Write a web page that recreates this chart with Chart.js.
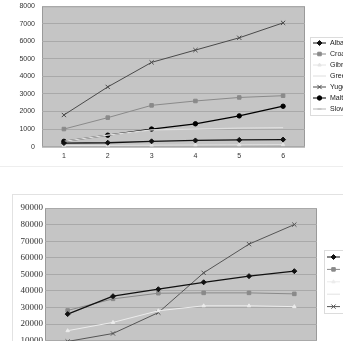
<!DOCTYPE html>
<html lang="en">
<head>
  <meta charset="UTF-8" />
  <title>Two line charts</title>
  <script src="https://cdn.jsdelivr.net/npm/chart.js"></script>
  <style>
    html, body { margin: 0; padding: 0; background: #fff; overflow: hidden; }
    body { width: 343px; height: 341px; position: relative; }
    .box1 { position: absolute; left: 0; top: 0; width: 343px; height: 166px; border-bottom: 1px solid #eee; overflow: hidden; }
    .box1 canvas { position: absolute; left: 0; top: -5px; }
    .box2 { position: absolute; left: 12px; top: 194px; width: 340px; height: 200px; border: 1px solid #e2e2e2; }
  </style>
</head>
<body>
  <div class="box1"><canvas id="chartTop" width="343" height="174"></canvas></div>
  <div class="box2"><canvas id="chartBottom" width="331" height="185"></canvas></div>

  <script>
    // data
    const years = ['1', '2', '3', '4', '5', '6'];

    const topNames = ['Albania', 'Croatia', 'Gibraltar', 'Greece', 'Yugoslavia', 'Malta', 'Slovenia'];
    const albania = [200, 220, 300, 350, 380, 400];
    const croatia = [1000, 1650, 2350, 2600, 2800, 2900];
    const gibraltar = [60, 70, 80, 90, 100, 110];
    const greece = [300, 650, 950, 1000, 1050, 1080];
    const yugoslavia = [1800, 3400, 4800, 5500, 6200, 7050];
    const malta = [300, 650, 1000, 1300, 1750, 2300];
    const slovenia = [20, 30, 40, 45, 50, 55];
    const topTicks = [0, 1000, 2000, 3000, 4000, 5000, 6000, 7000, 8000];

    const bottomNames = ['Series 1', 'Series 2', 'Series 3', 'Series 4', 'Series 5'];
    const series1 = [26000, 36800, 41000, 45200, 48900, 51900];
    const series2 = [28200, 35200, 38600, 38800, 38800, 38200];
    const series3 = [16000, 21000, 28000, 31000, 31000, 30500];
    const series4 = [3000, 4500, 5200, 6100, 6800, 7400];
    const series5 = [9500, 14300, 26900, 50900, 68200, 80000];
    const bottomTicks = [0, 10000, 20000, 30000, 40000, 50000, 60000, 70000, 80000, 90000];

    const plotBg = {
      id: 'plotBg',
      beforeDraw(chart) {
        const a = chart.chartArea, ctx = chart.ctx;
        ctx.save();
        ctx.fillStyle = '#c5c5c5';
        ctx.fillRect(a.left, a.top, a.right - a.left, a.bottom - a.top);
        ctx.strokeStyle = '#9a9a9a';
        ctx.lineWidth = 1;
        ctx.strokeRect(a.left + 0.5, a.top + 0.5, a.right - a.left - 1, a.bottom - a.top);
        ctx.restore();
      }
    };

    const sideLegend = {
      id: 'sideLegend',
      afterDraw(chart, args, o) {
        const ctx = chart.ctx;
        ctx.save();
        ctx.strokeStyle = '#dcdcdc';
        ctx.lineWidth = 1;
        ctx.strokeRect(o.x + 0.5, o.y + 0.5, o.w, o.h);
        ctx.font = o.font;
        ctx.textBaseline = 'middle';
        chart.data.datasets.forEach((ds, i) => {
          const y = o.y + o.first + i * o.step;
          ctx.strokeStyle = ds.borderColor;
          ctx.fillStyle = ds.borderColor;
          ctx.lineWidth = 1;
          ctx.beginPath();
          ctx.moveTo(o.x + 3, y);
          ctx.lineTo(o.x + 16, y);
          ctx.stroke();
          if (ds.pointRadius > 0) {
            Chart.helpers.drawPoint(ctx, { pointStyle: ds.pointStyle, radius: ds.pointRadius, borderWidth: 1 }, o.x + 9.5, y);
          }
          ctx.fillStyle = '#222';
          ctx.fillText(ds.label, o.x + 20, y);
        });
        ctx.restore();
      }
    };

    function line(label, data, color, style, r, width) {
      return {
        label: label, data: data,
        borderColor: color, backgroundColor: color,
        borderWidth: width || 1,
        pointStyle: style, pointRadius: r, pointBorderWidth: 1,
        pointBackgroundColor: color, pointBorderColor: color,
        tension: 0
      };
    }

    new Chart(document.getElementById('chartTop'), {
      type: 'line',
      data: {
        labels: years,
        datasets: [
          line(topNames[0], albania, '#111', 'rectRot', 2.5, 1.3),
          line(topNames[1], croatia, '#8a8a8a', 'rect', 2.5),
          line(topNames[2], gibraltar, '#e4e4e4', 'triangle', 2),
          line(topNames[3], greece, '#dedede', 'circle', 0, 1.2),
          line(topNames[4], yugoslavia, '#4a4a4a', 'crossRot', 3),
          line(topNames[5], malta, '#000', 'circle', 2.2, 1.3),
          line(topNames[6], slovenia, '#b5b5b5', 'line', 2)
        ]
      },
      options: {
        responsive: false,
        animation: false,
        events: [],
        layout: { padding: { left: 0, right: 38, top: 0, bottom: 4 } },
        plugins: {
          legend: { display: false },
          tooltip: { enabled: false },
          sideLegend: { x: 310, y: 42, w: 40, h: 78, first: 6, step: 11, font: '7px "Liberation Sans", Arial, sans-serif' }
        },
        scales: {
          x: {
            offset: true,
            grid: { display: false, drawTicks: false },
            border: { display: false },
            ticks: { color: '#333', padding: 5, font: { family: '"Liberation Sans", Arial', size: 7 } }
          },
          y: {
            min: 0, max: 8000,
            afterBuildTicks: s => { s.ticks = topTicks.map(v => ({ value: v })); },
            afterFit: s => { s.width = 42; },
            grid: { color: '#a9a9a9', drawTicks: false },
            border: { display: false },
            ticks: { color: '#333', padding: 7, autoSkip: false, callback: v => String(v), font: { family: '"Liberation Sans", Arial', size: 7 } }
          }
        }
      },
      plugins: [plotBg, sideLegend]
    });

    new Chart(document.getElementById('chartBottom'), {
      type: 'line',
      data: {
        labels: years,
        datasets: [
          line(bottomNames[0], series1, '#111', 'rectRot', 2.5, 1.3),
          line(bottomNames[1], series2, '#8a8a8a', 'rect', 2.5),
          line(bottomNames[2], series3, '#ececec', 'triangle', 2),
          line(bottomNames[3], series4, '#e2e2e2', 'circle', 0, 1.2),
          line(bottomNames[4], series5, '#555', 'crossRot', 3)
        ]
      },
      options: {
        responsive: false,
        animation: false,
        events: [],
        layout: { padding: { left: 0, right: 27, top: 13, bottom: 2 } },
        plugins: {
          legend: { display: false },
          tooltip: { enabled: false },
          sideLegend: { x: 311, y: 55, w: 40, h: 63, first: 7, step: 12.4, font: '8px "Liberation Serif", serif' }
        },
        scales: {
          x: {
            offset: true,
            grid: { display: false, drawTicks: false },
            border: { display: false },
            ticks: { color: '#333', padding: 5, font: { family: '"Liberation Serif", serif', size: 9 } }
          },
          y: {
            min: 0, max: 90000,
            afterBuildTicks: s => { s.ticks = bottomTicks.map(v => ({ value: v })); },
            afterFit: s => { s.width = 32; },
            grid: { color: '#a9a9a9', drawTicks: false },
            border: { display: false },
            ticks: { color: '#333', padding: 2, autoSkip: false, callback: v => String(v), font: { family: '"Liberation Serif", serif', size: 9 } }
          }
        }
      },
      plugins: [plotBg, sideLegend]
    });
  </script>
</body>
</html>
